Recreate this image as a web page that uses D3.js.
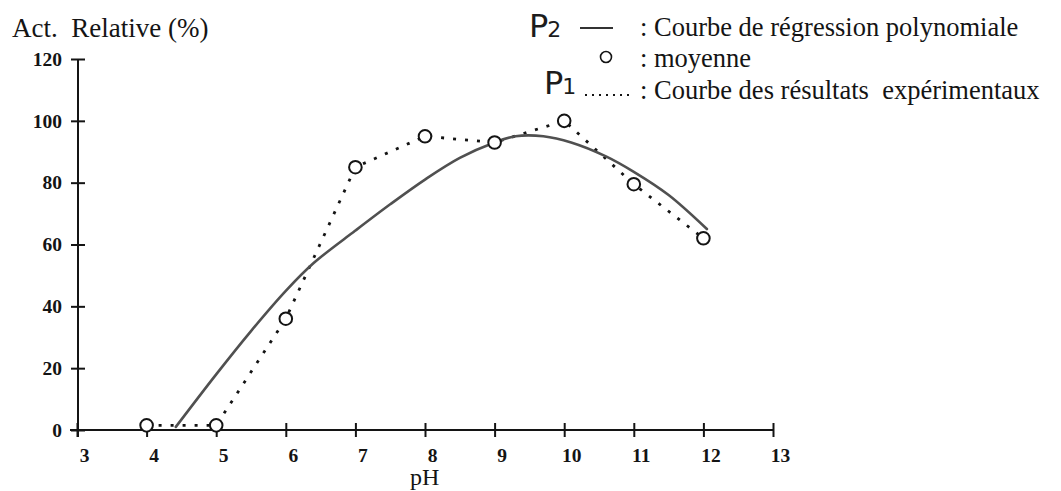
<!DOCTYPE html>
<html>
<head>
<meta charset="utf-8">
<script src="https://cdn.jsdelivr.net/npm/d3@7"></script>
<style>
  html, body { margin: 0; padding: 0; background: #fff; }
  svg { display: block; }
</style>
</head>
<body>
<svg id="chart" width="1061" height="491"></svg>
<script>
// Mean relative activity measured at each pH
const phValues = [4, 5, 6, 7, 8, 9, 10, 11, 12];
const meanActivity = [1.5, 1.5, 36, 85, 95, 93, 100, 79.5, 62];

// Polynomial regression curve, sampled along pH
const fitPh = [4.42, 5.0, 5.5, 6.0, 6.4, 7.0, 7.5, 8.0, 8.5, 9.0, 9.3, 9.7, 10.1, 10.6, 11.0, 11.5, 12.05];
const fitActivity = [1, 18, 32, 45, 54, 64.5, 73, 81, 88, 93, 95, 95, 93, 88.5, 83.5, 76, 65];

// Axis ticks
const xTicks = [3, 4, 5, 6, 7, 8, 9, 10, 11, 12, 13];
const yTicks = [0, 20, 40, 60, 80, 100, 120];

const svg = d3.select("#chart");
const serif = "'Liberation Serif', 'Times New Roman', serif";
const ink = "#141414";

const x = d3.scaleLinear().domain([3, 13]).range([77, 773]);
const y = d3.scaleLinear().domain([0, 120]).range([430, 59]);

// X axis: ticks crossing the line, labels set slightly to the right
const xAxis = svg.append("g")
  .attr("transform", `translate(0,${y(0)})`)
  .call(d3.axisBottom(x).tickValues(xTicks).tickSize(7).tickSizeOuter(0).tickPadding(11));
xAxis.select(".domain").attr("d", `M${x(3) - 7},0H${x(13)}`);
xAxis.selectAll(".tick line").attr("y1", -7).attr("y2", 7);
xAxis.selectAll(".tick text").attr("dx", 7);

// Y axis
const yAxis = svg.append("g")
  .attr("transform", `translate(${x(3) + 1},0)`)
  .call(d3.axisLeft(y).tickValues(yTicks).tickSize(7).tickSizeOuter(0).tickPadding(9));
yAxis.select(".domain").attr("d", `M0,${y(120)}V${y(0) + 7}`);
yAxis.selectAll(".tick line").attr("x1", -7).attr("x2", 7);

svg.selectAll(".domain, .tick line")
  .attr("stroke", ink).attr("stroke-width", 2);
svg.selectAll(".tick text")
  .attr("font-family", serif).attr("font-weight", "bold")
  .attr("font-size", 19.5).attr("fill", ink);

// Axis titles
svg.append("text")
  .attr("x", 12).attr("y", 37)
  .attr("font-family", serif).attr("font-size", 27).attr("fill", ink)
  .attr("xml:space", "preserve")
  .text("Act.  Relative (%)");

svg.append("text")
  .attr("x", 410).attr("y", 485)
  .attr("font-family", serif).attr("font-size", 24).attr("fill", ink)
  .text("pH");

// Experimental results (dotted)
const lineExp = d3.line()
  .x((d, i) => x(phValues[i]))
  .y(d => y(d));
svg.append("path")
  .datum(meanActivity)
  .attr("d", lineExp)
  .attr("fill", "none")
  .attr("stroke", ink)
  .attr("stroke-width", 2.8)
  .attr("stroke-dasharray", "3,9");

// Polynomial regression (solid)
const lineFit = d3.line()
  .x((d, i) => x(fitPh[i]))
  .y(d => y(d))
  .curve(d3.curveCatmullRom);
svg.append("path")
  .datum(fitActivity)
  .attr("d", lineFit)
  .attr("fill", "none")
  .attr("stroke", "#505050")
  .attr("stroke-width", 2.6)
  .attr("stroke-linecap", "round");

// Mean markers
svg.append("g")
  .selectAll("circle")
  .data(meanActivity)
  .join("circle")
  .attr("cx", (d, i) => x(phValues[i]))
  .attr("cy", d => y(d))
  .attr("r", 6.3)
  .attr("fill", "#fff")
  .attr("stroke", ink)
  .attr("stroke-width", 2);

// Legend
const legend = svg.append("g")
  .attr("font-family", serif).attr("font-size", 26.5).attr("fill", ink);

function handLabel(px, py, sub) {
  const t = legend.append("text")
    .attr("x", px).attr("y", py)
    .attr("font-family", "'DejaVu Sans', sans-serif")
    .attr("fill", "#1c1c1c");
  t.append("tspan").attr("font-size", 32).text("P");
  t.append("tspan").attr("font-size", 22).attr("dx", -1).text(sub);
}

handLabel(529, 37, "2");
legend.append("line")
  .attr("x1", 580).attr("x2", 613).attr("y1", 28).attr("y2", 28)
  .attr("stroke", "#333").attr("stroke-width", 1.8);
legend.append("text").attr("x", 640).attr("y", 36)
  .text(": Courbe de régression polynomiale");

legend.append("circle")
  .attr("cx", 606).attr("cy", 57).attr("r", 5.5)
  .attr("fill", "#fff").attr("stroke", ink).attr("stroke-width", 1.6);
legend.append("text").attr("x", 640).attr("y", 67)
  .text(": moyenne");

handLabel(544, 94, "1");
legend.append("line")
  .attr("x1", 585).attr("x2", 630).attr("y1", 95).attr("y2", 95)
  .attr("stroke", ink).attr("stroke-width", 2)
  .attr("stroke-dasharray", "2,5");
legend.append("text").attr("x", 640).attr("y", 99)
  .attr("xml:space", "preserve")
  .text(": Courbe des résultats  expérimentaux");
</script>
</body>
</html>
